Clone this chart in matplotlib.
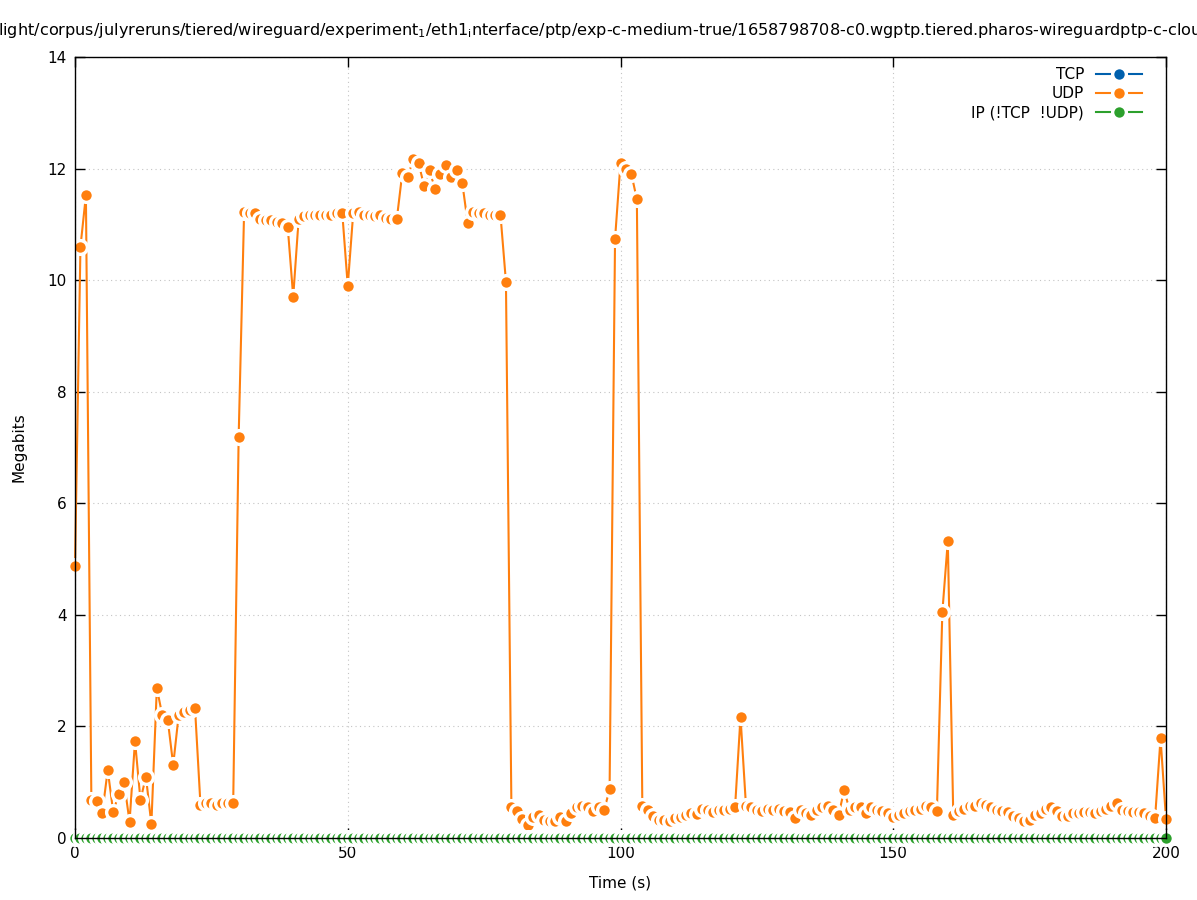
import matplotlib
matplotlib.use("Agg")
import matplotlib.pyplot as plt

# seconds since start of capture
time = list(range(201))

# Megabits per second
udp = [
    4.87, 10.6, 11.52, 0.68, 0.66, 0.45, 1.22, 0.47, 0.78, 1.0,
    0.29, 1.74, 0.68, 1.1, 0.25, 2.69, 2.2, 2.12, 1.31, 2.2,
    2.25, 2.29, 2.33, 0.6, 0.62, 0.62, 0.6, 0.62, 0.62, 0.63,
    7.19, 11.22, 11.2, 11.2, 11.1, 11.08, 11.07, 11.05, 11.03, 10.95,
    9.7, 11.1, 11.15, 11.17, 11.17, 11.17, 11.17, 11.17, 11.2, 11.2,
    9.9, 11.2, 11.22, 11.17, 11.17, 11.15, 11.17, 11.12, 11.1, 11.1,
    11.92, 11.84, 12.18, 12.1, 11.68, 11.97, 11.63, 11.91, 12.06, 11.85,
    11.97, 11.74, 11.02, 11.22, 11.2, 11.2, 11.17, 11.17, 11.17, 9.97,
    0.56, 0.48, 0.34, 0.24, 0.38, 0.42, 0.33, 0.3, 0.3, 0.37,
    0.3, 0.45, 0.55, 0.58, 0.55, 0.48, 0.55, 0.5, 0.87, 10.74,
    12.1, 12.0, 11.9, 11.45, 0.58, 0.5, 0.4, 0.32, 0.32, 0.3,
    0.35, 0.38, 0.42, 0.45, 0.43, 0.52, 0.5, 0.47, 0.5, 0.5,
    0.52, 0.55, 2.17, 0.58, 0.55, 0.5, 0.48, 0.52, 0.5, 0.52,
    0.48, 0.47, 0.35, 0.5, 0.45, 0.42, 0.5, 0.55, 0.58, 0.5,
    0.42, 0.86, 0.5, 0.56, 0.55, 0.45, 0.55, 0.5, 0.48, 0.45,
    0.38, 0.42, 0.45, 0.48, 0.5, 0.52, 0.58, 0.55, 0.48, 4.05,
    5.32, 0.42, 0.48, 0.52, 0.57, 0.58, 0.62, 0.6, 0.55, 0.5,
    0.48, 0.47, 0.4, 0.35, 0.3, 0.32, 0.42, 0.45, 0.52, 0.55,
    0.48, 0.4, 0.4, 0.44, 0.45, 0.47, 0.46, 0.45, 0.48, 0.52,
    0.58, 0.63, 0.5, 0.48, 0.47, 0.46, 0.44, 0.4, 0.36, 1.79,
    0.34,
]
tcp = []
ip_other = [0.0] * len(time)

labels = ["TCP", "UDP", "IP (!TCP  !UDP)"]
colors = ["#0060ad", "#ff7f0e", "#2ca02c"]

title = ("light/corpus/julyreruns/tiered/wireguard/experiment$_{1}$/eth1$_{\\mathrm{i}}$nterface/ptp/"
         "exp-c-medium-true/1658798708-c0.wgptp.tiered.pharos-wireguardptp-c-cloud")

fig = plt.figure(figsize=(11.97, 9), dpi=100)
ax = fig.add_axes([75 / 1197, 62 / 900, 1091 / 1197, 781 / 900])

style = dict(marker="o", markersize=9.9, markeredgecolor="white",
             markeredgewidth=2.4, linewidth=1.5, clip_on=False)
ax.plot(time[:len(tcp)], tcp, color=colors[0], label=labels[0], **style)
ax.plot(time, udp, color=colors[1], label=labels[1], **style)
ax.plot(time, ip_other, color=colors[2], label=labels[2], **style)

ax.set_xlim(0, 200)
ax.set_ylim(0, 14)
ax.set_xticks([0, 50, 100, 150, 200])
ax.set_yticks(range(0, 15, 2))
ax.grid(True, linestyle=(0, (1, 3)), color="#c4c4c4", linewidth=0.8)
ax.set_axisbelow(True)
ax.tick_params(direction="in", length=7, width=1, top=True, right=True,
               labelsize=11, pad=6)
for sp in ax.spines.values():
    sp.set_zorder(5)
    sp.set_linewidth(1)

ax.set_xlabel("Time (s)", fontsize=11, labelpad=10)
ax.set_ylabel("Megabits", fontsize=11, labelpad=15)

ax.legend(loc="upper right", frameon=False, markerfirst=False,
          handlelength=3.0, fontsize=11, labelspacing=0.27,
          bbox_to_anchor=(0.985, 0.997), borderaxespad=0.1)

fig.text(-0.002, 1 - 30 / 900, title, ha="left", va="center", fontsize=11.6)

fig.savefig("out.png", dpi=100)
